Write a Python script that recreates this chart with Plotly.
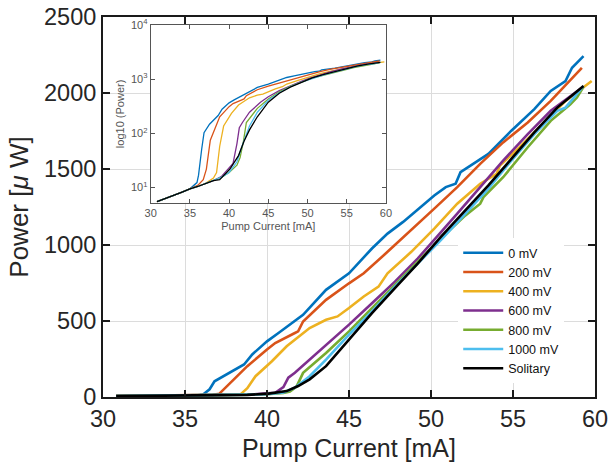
import plotly.graph_objects as go

series_names = ["0 mV", "200 mV", "400 mV", "600 mV", "800 mV", "1000 mV", "Solitary"]
colors = ["#0072BD", "#D95319", "#EDB120", "#7E2F8E", "#77AC30", "#4DBEEE", "#000000"]

x_0mV = [30.8, 32, 33, 34, 35, 35.9, 36.1, 36.5, 36.8, 37.5, 38.6, 39.1, 40.0, 40.7, 42.2, 43.6, 45.0, 46.4,
         47.35, 48.3, 50.2, 50.9, 51.5, 51.8, 53.5, 54.9, 56.3, 57.3, 58.2, 58.6, 59.3]
p_0mV = [5.5, 6.5, 7.3, 8.3, 9.5, 12.4, 17, 51, 103, 148, 214, 280, 366, 421, 541, 705, 814, 977,
         1075, 1152, 1326, 1381, 1403, 1479, 1599, 1752, 1894, 2014, 2079, 2166, 2243]

x_200mV = [30.8, 32, 33, 34, 35, 36, 36.7, 37.1, 37.6, 38.8, 40.0, 40.5, 41.7, 41.9, 42.2, 43.6, 45.0, 45.9,
           47.35, 48.8, 50.2, 51.6, 53.0, 54.4, 55.9, 57.3, 59.2]
p_200mV = [5.5, 6.5, 7.3, 8.3, 9.5, 11, 14, 22, 75, 203, 312, 355, 421, 432, 497, 639, 748, 814,
           955, 1097, 1239, 1381, 1534, 1675, 1806, 1948, 2166]

x_400mV = [30.8, 32, 33, 34, 35, 36, 37, 38, 38.4, 38.8, 39.3, 40.3, 41.2, 42.6, 43.6, 44.3, 45, 45.9,
           46.8, 47.35, 48.8, 50.2, 51.6, 53, 54, 54.2, 55.4, 56.8, 58.2, 59.8]
p_400mV = [5.5, 6.5, 7.3, 8.3, 9.5, 10.5, 12, 15, 19, 58, 137, 235, 334, 454, 508, 530, 585, 661,
           726, 814, 955, 1108, 1272, 1403, 1468, 1523, 1643, 1795, 1948, 2079]

x_600mV = [30.8, 32, 33, 34, 35, 36, 37, 38, 39, 39.8, 40.5, 41.0, 41.3, 41.7, 42.6, 44, 45, 46.4,
           47.8, 49.2, 50.2, 51.6, 53, 54.4, 55.9, 57.3, 59.2]
p_600mV = [5.5, 6.5, 7.3, 8.3, 9.5, 10.5, 12, 13.5, 16, 22, 28, 65, 127, 159, 246, 377, 476, 617,
           759, 912, 1032, 1206, 1381, 1555, 1730, 1883, 2035]

x_800mV = [30.8, 32, 33, 34, 35, 36, 37, 38, 39, 40, 41.0, 41.4, 41.8, 42.2, 43.6, 45, 46.4, 47.8,
           49.2, 50.6, 52.1, 53, 53.2, 54.4, 55.9, 57.3, 58.5, 58.9, 59.3]
p_800mV = [5.5, 6.5, 7.3, 8.3, 9.5, 10.5, 12, 13.5, 15.5, 19, 26, 36, 68, 159, 290, 432, 585, 737,
           890, 1043, 1195, 1272, 1315, 1446, 1643, 1817, 1926, 1970, 2040]

x_1000mV = [30.8, 32, 33, 34, 35, 36, 37, 38, 39, 40, 41, 41.7, 42.6, 43.6, 45, 46.4, 47.8, 49.2,
            50.6, 52.1, 53.5, 54.9, 56.3, 57.7, 58.2, 59.3]
p_1000mV = [5.5, 6.5, 7.3, 8.3, 9.5, 10.5, 12, 13.5, 15.5, 19, 30, 61, 137, 246, 410, 563, 726, 879,
            1032, 1206, 1370, 1555, 1730, 1883, 1904, 2046]

x_solitary = [30.8, 32, 33, 34, 35, 36, 37, 38, 38.8, 40.1, 41.2, 41.9, 42.6, 43.6, 45, 46.4, 47.8,
              49.2, 50.6, 52.1, 53.5, 54.9, 56.3, 57.7, 59.3]
p_solitary = [5.5, 6.5, 7.3, 8.3, 9.5, 10.5, 12, 13.5, 14, 22, 39, 72, 116, 203, 377, 552, 716,
              879, 1054, 1228, 1392, 1566, 1741, 1904, 2046]

xs = [x_0mV, x_200mV, x_400mV, x_600mV, x_800mV, x_1000mV, x_solitary]
ps = [p_0mV, p_200mV, p_400mV, p_600mV, p_800mV, p_1000mV, p_solitary]

main_xticks = [30, 35, 40, 45, 50, 55, 60]
main_yticks = [0, 500, 1000, 1500, 2000, 2500]
inset_yticks = [10, 100, 1000, 10000]
inset_yticktext = ["10<sup>1</sup>", "10<sup>2</sup>", "10<sup>3</sup>", "10<sup>4</sup>"]

fig = go.Figure()
for name, c, x, p in zip(series_names, colors, xs, ps):
    fig.add_trace(go.Scatter(x=x, y=p, mode="lines", name=name,
                             line=dict(color=c, width=2.6), xaxis="x", yaxis="y"))
for name, c, x, p in zip(series_names, colors, xs, ps):
    fig.add_trace(go.Scatter(x=x, y=p, mode="lines", name=name, showlegend=False,
                             line=dict(color=c, width=1.3), xaxis="x2", yaxis="y2"))

font_main = "Liberation Sans, Arial, sans-serif"

fig.update_layout(
    width=608, height=469,
    margin=dict(l=103, r=13, t=17, b=72),
    paper_bgcolor="white", plot_bgcolor="white",
    font=dict(family=font_main, color="#262626"),
    showlegend=True,
    legend=dict(x=0.722, y=0.418, xanchor="left", yanchor="top",
                bgcolor="white", borderwidth=0,
                font=dict(size=12.5, color="#111111"),
                tracegroupgap=0, itemwidth=40),
    xaxis=dict(domain=[0, 1], range=[30, 60], tickvals=main_xticks, automargin=False,
               ticklabeloverflow="allow",
               showgrid=True, gridcolor="#dcdcdc", gridwidth=1,
               showline=True, linecolor="#1a1a1a", linewidth=2, mirror="ticks",
               ticks="inside", ticklen=7, tickwidth=2, tickcolor="#1a1a1a",
               tickfont=dict(size=23.5), zeroline=False,
               title=dict(text="Pump Current [mA]", font=dict(size=25), standoff=8)),
    yaxis=dict(domain=[0, 1], range=[0, 2500], tickvals=main_yticks, automargin=False,
               ticklabeloverflow="allow",
               showgrid=True, gridcolor="#dcdcdc", gridwidth=1,
               showline=True, linecolor="#1a1a1a", linewidth=2, mirror="ticks",
               ticks="inside", ticklen=7, tickwidth=2, tickcolor="#1a1a1a",
               tickfont=dict(size=23.5), zeroline=False,
               title=dict(text="Power [<i>μ</i> W]", font=dict(size=26), standoff=8)),
    xaxis2=dict(domain=[0.097, 0.575], range=[30, 60], anchor="y2", automargin=False,
                tickvals=main_xticks, showgrid=False,
                showline=True, linecolor="#555555", linewidth=1, mirror="ticks",
                ticks="inside", ticklen=4, tickcolor="#555555",
                tickfont=dict(size=11, color="#555555"), zeroline=False,
                title=dict(text="Pump Current [mA]", font=dict(size=11, color="#555555"), standoff=4)),
    yaxis2=dict(domain=[0.511, 0.979], type="log", range=[0.72, 4], anchor="x2", automargin=False,
                tickvals=inset_yticks, ticktext=inset_yticktext, showgrid=False,
                showline=True, linecolor="#555555", linewidth=1, mirror="ticks",
                ticks="inside", ticklen=4, tickcolor="#555555",
                tickfont=dict(size=11, color="#555555"), zeroline=False,
                title=dict(text="log10 (Power)", font=dict(size=11, color="#555555"), standoff=4)),
    shapes=[dict(type="rect", xref="x2 domain", yref="y2 domain",
                 x0=-0.147, x1=1.008, y0=-0.199, y1=1.039,
                 fillcolor="white", line=dict(width=0), layer="below")],
)

# remove the browser's default 8px body margin so the 608x469 figure fills the window
fig.write_html("out.html", config={"displayModeBar": False},
               post_script="document.body.style.margin='0px';document.body.style.overflow='hidden';")
